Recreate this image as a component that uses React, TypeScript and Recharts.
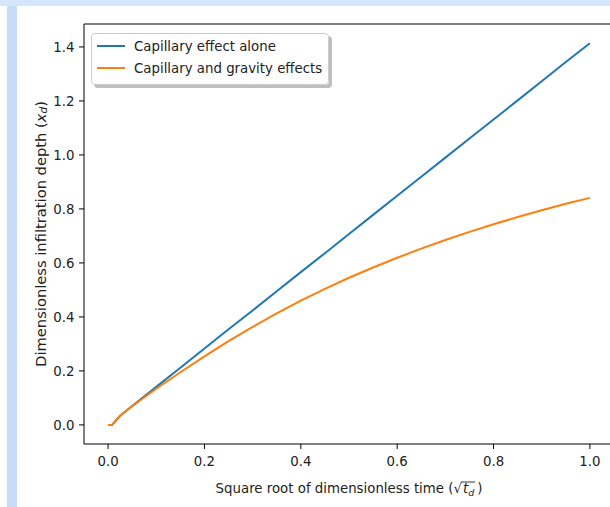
import { Line, LineChart, ReferenceLine, XAxis, YAxis } from "recharts";

const BLUE = "#1f77b4";
const ORANGE = "#ff7f0e";
const FONT = "'DejaVu Sans', sans-serif";
const FS = 13.33;

const sqrtTd = [0, 0.008, 0.025, 0.05, 0.1, 0.15, 0.2, 0.25, 0.3, 0.35, 0.4, 0.45, 0.5, 0.55, 0.6, 0.65, 0.7, 0.75, 0.8, 0.85, 0.9, 0.95, 1.0];
const capillaryAlone = [0, 0, 0.034, 0.07, 0.141, 0.212, 0.283, 0.354, 0.424, 0.495, 0.566, 0.636, 0.707, 0.778, 0.849, 0.919, 0.99, 1.061, 1.131, 1.202, 1.273, 1.344, 1.414];
const capillaryGravity = [0, 0, 0.034, 0.069, 0.134, 0.195, 0.254, 0.31, 0.363, 0.413, 0.46, 0.504, 0.545, 0.583, 0.619, 0.653, 0.685, 0.715, 0.743, 0.77, 0.795, 0.819, 0.841];

const xTicks = [0, 0.2, 0.4, 0.6, 0.8, 1.0];
const yTicks = [0, 0.2, 0.4, 0.6, 0.8, 1.0, 1.2, 1.4];
const xDomain = [-0.05, 1.05];
const yDomain = [-0.0707, 1.485];

const seriesNames = ["Capillary effect alone", "Capillary and gravity effects"];
const seriesColors = [BLUE, ORANGE];

const data = sqrtTd.map((s, i) => ({
  s,
  alone: capillaryAlone[i],
  gravity: capillaryGravity[i],
}));

function textWidth(str: string, font: string) {
  const ctx = document.createElement("canvas").getContext("2d");
  if (!ctx) return str.length * 7;
  ctx.font = font;
  return ctx.measureText(str).width;
}

function YLabel({ viewBox }: any) {
  const cx = 40;
  const cy = viewBox.y + viewBox.height / 2;
  return (
    <text
      x={cx}
      y={cy}
      transform={`rotate(-90 ${cx} ${cy})`}
      textAnchor="middle"
      dominantBaseline="central"
      fontFamily={FONT}
      fontSize={14.7}
      fill="#222"
    >
      Dimensionless infiltration depth (
      <tspan fontStyle="italic">x</tspan>
      <tspan fontStyle="italic" fontSize={10.5} dy={3}>d</tspan>
      <tspan dy={-3}>)</tspan>
    </text>
  );
}

function XLabel({ viewBox }: any) {
  const left = "Square root of dimensionless time (√";
  const wL = textWidth(left, `${FS}px ${FONT}`);
  const wT = textWidth("t", `italic ${FS}px ${FONT}`);
  const wD = textWidth("d", `italic 9.5px ${FONT}`);
  const wR = textWidth(")", `${FS}px ${FONT}`);
  const total = wL + 1 + wT + wD + 3 + wR;
  const cx = viewBox.x + viewBox.width / 2;
  const x0 = cx - total / 2;
  const baseline = 493;
  return (
    <g>
      <text x={x0} y={baseline} fontFamily={FONT} fontSize={FS} fill="#222">
        {left}
        <tspan dx={1} fontStyle="italic">t</tspan>
        <tspan fontStyle="italic" fontSize={9.5} dy={3}>d</tspan>
        <tspan dx={3} dy={-3}>)</tspan>
      </text>
      <line
        x1={x0 + wL - 1}
        x2={x0 + wL + 1 + wT + wD + 1}
        y1={baseline - 11}
        y2={baseline - 11}
        stroke="#222"
        strokeWidth={0.9}
      />
    </g>
  );
}

function LegendBox() {
  return (
    <div
      style={{
        position: "absolute",
        left: 91,
        top: 33,
        border: "1px solid #cccccc",
        borderRadius: 4,
        background: "rgba(255,255,255,0.85)",
        boxShadow: "3px 3px 0 rgba(128,128,128,0.5)",
        padding: "1px 6px 5px 5px",
        fontFamily: FONT,
        fontSize: FS,
        color: "#222",
      }}
    >
      {seriesNames.map((n, i) => (
        <div key={n} style={{ display: "flex", alignItems: "center", height: 22 }}>
          <svg width={28} height={4} style={{ marginRight: 9 }}>
            <line x1={0} x2={28} y1={2} y2={2} stroke={seriesColors[i]} strokeWidth={2} />
          </svg>
          <span style={{ whiteSpace: "nowrap" }}>{n}</span>
        </div>
      ))}
    </div>
  );
}

const tickStyle = { fill: "#222", fontSize: FS, fontFamily: FONT };

export default function App() {
  return (
    <div
      style={{
        position: "fixed",
        left: 0,
        top: 0,
        width: 610,
        height: 507,
        overflow: "hidden",
        background: "#fff",
      }}
    >
      <div style={{ position: "absolute", left: 0, top: 0, width: 610, height: 6, background: "#d5e6fa" }} />
      <div style={{ position: "absolute", left: 7, top: 6, width: 10, height: 501, background: "#c6ddf9" }} />
      <div style={{ position: "absolute", left: 0, top: 0 }}>
        <LineChart width={620} height={507} data={data} margin={{ top: 24, right: 6, bottom: 0, left: 0 }}>
          <XAxis
            dataKey="s"
            type="number"
            domain={xDomain}
            ticks={xTicks}
            tickFormatter={(v: number) => v.toFixed(1)}
            tick={tickStyle}
            tickSize={5}
            tickMargin={8}
            height={63}
            axisLine={{ stroke: "#000", strokeWidth: 1 }}
            tickLine={{ stroke: "#000" }}
            allowDataOverflow
            label={<XLabel />}
          />
          <YAxis
            type="number"
            domain={yDomain}
            ticks={yTicks}
            tickFormatter={(v: number) => v.toFixed(1)}
            tick={tickStyle}
            tickSize={5}
            tickMargin={4.5}
            width={84}
            axisLine={{ stroke: "#000", strokeWidth: 1 }}
            tickLine={{ stroke: "#000" }}
            allowDataOverflow
            label={<YLabel />}
          />
          <ReferenceLine y={yDomain[1]} stroke="#000" strokeWidth={1} ifOverflow="visible" />
          <Line
            dataKey="alone"
            name={seriesNames[0]}
            stroke={BLUE}
            strokeWidth={2}
            dot={false}
            type="linear"
            isAnimationActive={false}
          />
          <Line
            dataKey="gravity"
            name={seriesNames[1]}
            stroke={ORANGE}
            strokeWidth={2}
            dot={false}
            type="linear"
            isAnimationActive={false}
          />
        </LineChart>
      </div>
      <LegendBox />
    </div>
  );
}
